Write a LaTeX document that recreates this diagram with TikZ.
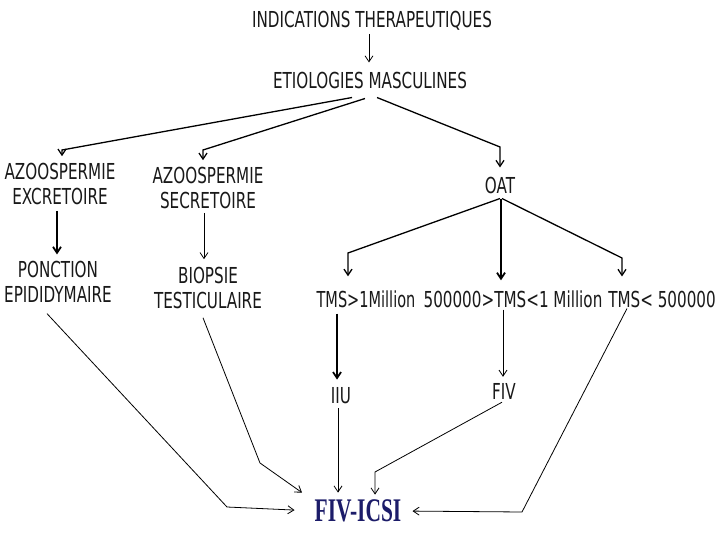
\documentclass[tikz,border=0pt]{standalone}
\usepackage{fontspec}
\usetikzlibrary{arrows.meta}
\newfontfamily\tahomalike[FakeStretch=0.69]{DejaVu Sans}
\newfontfamily\tahomanarrow[FakeStretch=0.66]{DejaVu Sans}
\newfontfamily\serifnarrow[FakeStretch=0.65]{Liberation Serif}
\definecolor{navy}{RGB}{28,28,105}
\tikzset{
  lbl/.style={font=\tahomalike\fontsize{22}{24.5}\selectfont, inner sep=0pt, align=center, text=black!90},
  big/.style={font=\serifnarrow\bfseries\fontsize{33}{36}\selectfont, inner sep=0pt, text=navy},
  arr/.style={draw=black, line width=0.8pt, -{Straight Barb[length=6pt,width=8pt]}, line join=miter},
  med/.style={arr, line width=1.3pt},
  thk/.style={arr, line width=1.8pt}
}
\begin{document}
\begin{tikzpicture}[x=1pt,y=-1pt]
\useasboundingbox[fill=white] (0,0) rectangle (720,540);
% nodes
\node[lbl] (ind) at (372,21) {INDICATIONS THERAPEUTIQUES};
\node[lbl] (etio) at (370,80) {ETIOLOGIES MASCULINES};
\node[lbl] (azex) at (60,184) {AZOOSPERMIE\\EXCRETOIRE};
\node[lbl] (azse) at (208,188) {AZOOSPERMIE\\SECRETOIRE};
\node[lbl] (oat) at (500,185) {OAT};
\node[lbl] (ponc) at (58,282) {PONCTION\\EPIDIDYMAIRE};
\node[lbl] (biop) at (208,288) {BIOPSIE\\TESTICULAIRE};
\node[lbl,font=\tahomanarrow\fontsize{22}{24.5}\selectfont] (tms1) at (366,299) {TMS>1Million};
\node[lbl] (tms2) at (513,299) {500000>TMS<1 Million};
\node[lbl] (tms3) at (662,299) {TMS< 500000};
\node[lbl] (iiu) at (341,396) {IIU};
\node[lbl] (fiv) at (504,391) {FIV};
\node[big] (icsi) at (358,511) {FIV-ICSI};
% elbow coordinates
\coordinate (e1) at (62,150);
\coordinate (e2) at (203,150);
\coordinate (e3) at (500,147);
\coordinate (o1) at (348,253);
\coordinate (o3) at (622,258);
\coordinate (f1) at (375,472);
\coordinate (b1) at (260,463);
\coordinate (p1) at (227,507);
\coordinate (t1) at (522,512);
% connectors
\draw[arr] ([xshift=-3pt,yshift=-3pt]ind.south) -- ([xshift=-1pt,yshift=9pt]etio.north);
\draw[med,shorten >=7pt] ([xshift=-18pt,yshift=-9pt]etio.south) -- (e1) -- (e1 |- azex.north);
\draw[med,shorten >=7pt] ([xshift=-5pt,yshift=-10pt]etio.south) -- (e2) -- (e2 |- azse.north);
\draw[med,shorten >=9pt] ([xshift=7pt,yshift=-9pt]etio.south) -- (e3) -- (e3 |- oat.north);
\draw[thk] ([xshift=-3pt,yshift=-6pt]azex.south) -- ([xshift=-1pt,yshift=7pt]ponc.north);
\draw[arr] ([xshift=-4pt,yshift=-4pt]azse.south) -- ([xshift=-4pt,yshift=8pt]biop.north);
\draw[med,shorten >=14pt] ([yshift=-5pt]oat.south) -- (o1) -- (o1 |- tms1.north);
\draw[thk,shorten >=10pt] ([xshift=1pt,yshift=-5pt]oat.south) -- ([xshift=1pt]oat.south |- tms2.north);
\draw[med,shorten >=14pt] ([xshift=2pt,yshift=-5pt]oat.south) -- (o3) -- (o3 |- tms3.north);
\draw[thk] ([xshift=-29pt,yshift=-6pt]tms1.south) -- ([xshift=-4pt,yshift=8pt]iiu.north);
\draw[arr] ([xshift=-10pt,yshift=-2pt]tms2.south) -- ([xshift=-1pt,yshift=6pt]fiv.north);
\draw[arr] ([xshift=-3pt,yshift=-4pt]iiu.south) -- ([xshift=-20pt,yshift=7pt]icsi.north);
\draw[arr,shorten >=5pt] ([xshift=-2pt,yshift=-3pt]fiv.south) -- (f1) -- (f1 |- icsi.north);
\draw[arr] ([xshift=-5pt,yshift=-9pt]biop.south) -- (b1) -- ([xshift=-56pt,yshift=7pt]icsi.north);
\draw[arr,shorten >=20pt] ([xshift=-11pt,yshift=-11pt]ponc.south) -- (p1) -- (icsi.west);
\draw[arr,shorten >=11pt] ([xshift=-35pt,yshift=-1pt]tms3.south) -- (t1) -- (icsi.east);
\end{tikzpicture}
\end{document}
